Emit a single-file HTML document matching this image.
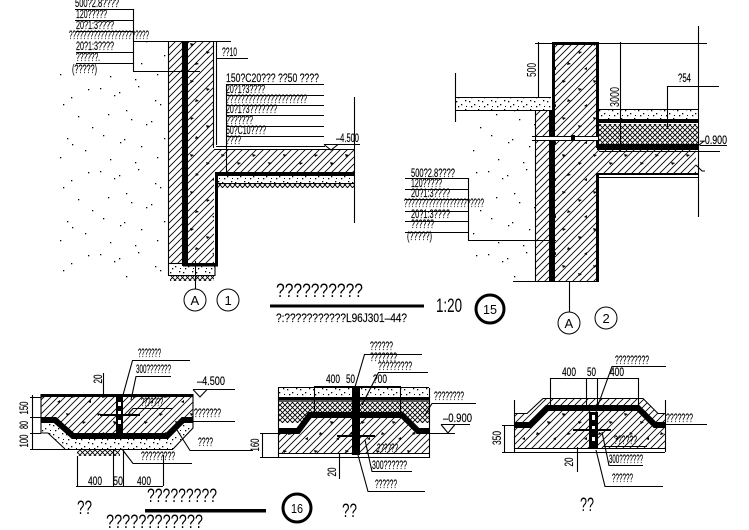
<!DOCTYPE html>
<html><head><meta charset="utf-8"><style>
html,body{margin:0;padding:0;background:#fff}
svg{display:block}
text{font-family:"Liberation Sans",sans-serif;font-size:11.5px;fill:#000;stroke:#000;stroke-width:.15}
.l{font-size:19px;stroke-width:0}
.m{font-size:13px;stroke-width:0}
line,polyline,path.s{stroke:#000;stroke-width:1.1;fill:none}
.b{fill:#000;stroke:none}
</style></head><body>
<svg width="749" height="530" viewBox="0 0 749 530" xmlns="http://www.w3.org/2000/svg">
<defs>
<pattern id="h" width="7" height="7" patternUnits="userSpaceOnUse"><path d="M-1 8L8 -1M-1 1L1 -1M6 8L8 6" stroke="#000" stroke-width=".85" fill="none"/></pattern>
<pattern id="x" width="5" height="5" patternUnits="userSpaceOnUse"><path d="M0 0L5 5M5 0L0 5" stroke="#000" stroke-width=".9" fill="none"/></pattern>
<pattern id="d" width="97" height="83" patternUnits="userSpaceOnUse"><g fill="#000"><rect x="3" y="5" width="1.300" height="1.300"/><rect x="17" y="12" width="1.300" height="1.300"/><rect x="22" y="9" width="1.300" height="1.300"/><rect x="41" y="3" width="1.300" height="1.300"/><rect x="58" y="17" width="1.300" height="1.300"/><rect x="63" y="21" width="1.300" height="1.300"/><rect x="71" y="14" width="1.300" height="1.300"/><rect x="88" y="6" width="1.300" height="1.300"/><rect x="11" y="31" width="1.300" height="1.300"/><rect x="29" y="27" width="1.300" height="1.300"/><rect x="34" y="36" width="1.300" height="1.300"/><rect x="49" y="41" width="1.300" height="1.300"/><rect x="54" y="38" width="1.300" height="1.300"/><rect x="78" y="33" width="1.300" height="1.300"/><rect x="92" y="44" width="1.300" height="1.300"/><rect x="6" y="52" width="1.300" height="1.300"/><rect x="23" y="59" width="1.300" height="1.300"/><rect x="27" y="56" width="1.300" height="1.300"/><rect x="44" y="63" width="1.300" height="1.300"/><rect x="67" y="55" width="1.300" height="1.300"/><rect x="72" y="61" width="1.300" height="1.300"/><rect x="85" y="67" width="1.300" height="1.300"/><rect x="13" y="76" width="1.300" height="1.300"/><rect x="38" y="79" width="1.300" height="1.300"/><rect x="60" y="74" width="1.300" height="1.300"/></g></pattern>
<pattern id="c" width="13" height="9" patternUnits="userSpaceOnUse"><g fill="#000"><rect x="1" y="2" width="1.300" height="1.300"/><rect x="6" y="5" width="1.300" height="1.300"/><rect x="10" y="1" width="1.300" height="1.300"/><rect x="3" y="7" width="1.300" height="1.300"/><rect x="11" y="7" width="1" height="1"/></g></pattern>
<pattern id="t" width="31" height="37" patternUnits="userSpaceOnUse"><g fill="#000"><path d="M4 6l4 1-3 2z"/><path d="M20 14l4 1-3 2z"/><path d="M10 25l3 2-4 1z"/><path d="M26 32l3-2v3z"/></g></pattern>
</defs>

<!-- soil -->
<rect x="60" y="70" width="108" height="210" fill="url(#d)"/>
<rect x="134" y="42" width="34" height="28" fill="url(#d)"/>
<rect x="468" y="110" width="68" height="170" fill="url(#d)"/>

<!-- DETAIL 1 -->
<rect x="169" y="41" width="13" height="222" fill="url(#h)"/>
<rect x="188" y="41" width="26" height="223" fill="url(#h)"/>
<rect x="188" y="41" width="26" height="223" fill="url(#t)"/>
<rect x="214" y="150" width="140" height="22" fill="url(#h)"/>
<rect x="214" y="150" width="140" height="22" fill="url(#t)"/>
<rect x="218" y="176" width="136" height="7" fill="url(#c)"/>
<rect x="218" y="183" width="136" height="5" fill="url(#x)"/>
<rect x="170" y="266" width="45" height="9" fill="url(#c)"/>
<rect x="170" y="275" width="44" height="6" fill="url(#x)"/>
<rect class="b" x="183" y="41" width="5" height="225"/>
<rect class="b" x="183" y="263" width="35" height="3.500"/>
<rect class="b" x="215" y="172" width="3" height="94"/>
<rect class="b" x="215" y="172" width="139" height="4"/>
<line x1="168.500" y1="41" x2="168.500" y2="275"/>
<line x1="182.500" y1="41" x2="182.500" y2="266"/>
<line x1="213.500" y1="41" x2="213.500" y2="148"/>
<line x1="216.500" y1="41" x2="216.500" y2="145"/>
<line x1="133" y1="41.500" x2="231" y2="41.500"/>
<line x1="216" y1="146.500" x2="325" y2="146.500"/>
<line x1="214" y1="149.500" x2="354" y2="149.500"/>
<line x1="354.500" y1="97" x2="354.500" y2="223"/>
<line x1="218" y1="183.500" x2="354" y2="183.500"/>
<line x1="168" y1="263.500" x2="183" y2="263.500"/>
<line x1="168" y1="275.500" x2="215" y2="275.500"/>
<line x1="215" y1="266" x2="215" y2="276"/>
<circle cx="195" cy="300" r="11" fill="none" stroke="#000"/>
<line x1="195.500" y1="261" x2="195.500" y2="289"/>
<circle cx="228" cy="300" r="11" fill="none" stroke="#000"/>
<text class="m" x="190.500" y="305">A</text>
<text class="m" x="224.500" y="305">1</text>
<!-- left labels 1 -->
<path class="s" d="M75 9.500H133.500V71.500H200M75 20.500H133M76 31.500H133M76 52.500H133M76 63.500H133"/>
<text x="75" y="7" textLength="44" lengthAdjust="spacingAndGlyphs">500?2.8????</text>
<text x="76" y="18" textLength="31" lengthAdjust="spacingAndGlyphs">120?????</text>
<text x="76" y="29" textLength="38" lengthAdjust="spacingAndGlyphs">20?1:3????</text>
<text x="69" y="39" textLength="80" lengthAdjust="spacingAndGlyphs">???????????????????????</text>
<text x="76" y="50" textLength="38" lengthAdjust="spacingAndGlyphs">20?1:3????</text>
<text x="76" y="61" textLength="24" lengthAdjust="spacingAndGlyphs">??????.</text>
<text x="72" y="73" textLength="25" lengthAdjust="spacingAndGlyphs">(?????)</text>
<!-- right labels 1 -->
<path class="s" d="M216 58.500H248M226 84.500H324M226 95.500H324M226 105.500H324M226 115.500H324M226 126.500H324M226 136.500H324M226.500 84V173"/>
<text x="222" y="56" textLength="15" lengthAdjust="spacingAndGlyphs">??10</text>
<text x="226" y="82" textLength="93" lengthAdjust="spacingAndGlyphs">150?C20???  ??50 ????</text>
<text x="226" y="93" textLength="39" lengthAdjust="spacingAndGlyphs">20?1?3????</text>
<text x="226" y="103" textLength="81" lengthAdjust="spacingAndGlyphs">??????????????????????</text>
<text x="226" y="113" textLength="51" lengthAdjust="spacingAndGlyphs">20?1?3???????</text>
<text x="226" y="124" textLength="27" lengthAdjust="spacingAndGlyphs">???????</text>
<text x="226" y="134" textLength="40" lengthAdjust="spacingAndGlyphs">50?C10????</text>
<text x="226" y="144" textLength="15" lengthAdjust="spacingAndGlyphs">????</text>
<text x="336" y="142" textLength="23" lengthAdjust="spacingAndGlyphs">–4.500</text>
<path class="s" d="M324 144.500H360M324 144.500L331 150L338 144.500"/>
<!-- title 15 -->
<text class="l" x="276" y="297" textLength="87" lengthAdjust="spacingAndGlyphs">??????????</text>
<rect class="b" x="270" y="304.500" width="154" height="3"/>
<text x="276" y="322" textLength="131" lengthAdjust="spacingAndGlyphs">?:???????????L96J301–44?</text>
<text class="l" x="436" y="312" textLength="26" lengthAdjust="spacingAndGlyphs">1:20</text>
<circle cx="490" cy="309" r="14" fill="none" stroke="#000" stroke-width="3"/>
<text class="m" x="483" y="314" textLength="14" lengthAdjust="spacingAndGlyphs">15</text>

<!-- DETAIL 2 -->
<rect x="555" y="45" width="41" height="236" fill="url(#h)"/>
<rect x="555" y="45" width="41" height="236" fill="url(#t)"/>
<rect x="536" y="110" width="13" height="171" fill="url(#h)"/>
<rect x="596" y="150" width="100" height="23" fill="url(#h)"/>
<rect x="596" y="150" width="100" height="23" fill="url(#t)"/>
<rect x="599" y="110" width="99" height="9" fill="url(#c)"/>
<rect x="599" y="124" width="99" height="20" fill="url(#x)"/>
<rect x="455" y="98" width="96" height="12" fill="url(#c)"/>
<rect class="b" x="549" y="110" width="6" height="171"/>
<rect class="b" x="552" y="42" width="3" height="69"/>
<rect class="b" x="552" y="42" width="47" height="3"/>
<rect class="b" x="596" y="42" width="3" height="106"/>
<rect class="b" x="596" y="173" width="3" height="108"/>
<rect class="b" x="599" y="119" width="99" height="4"/>
<rect class="b" x="597" y="144" width="101" height="6"/>
<rect class="b" x="596" y="173" width="102" height="2"/>
<rect x="532" y="137" width="66" height="3" fill="#fff"/>
<path class="s" d="M532 136.500H598M532 140.500H598"/>
<rect class="b" x="571" y="135" width="4" height="6"/>
<line x1="535" y1="43.500" x2="707" y2="43.500"/>
<line x1="535.500" y1="110" x2="535.500" y2="281"/>
<line x1="538.500" y1="42" x2="538.500" y2="97"/>
<line x1="620.500" y1="42" x2="620.500" y2="151"/>
<line x1="698.500" y1="26" x2="698.500" y2="217"/>
<line x1="455.500" y1="73" x2="455.500" y2="122"/>
<line x1="455" y1="97.500" x2="551" y2="97.500"/>
<line x1="455" y1="110.500" x2="551" y2="110.500"/>
<line x1="599" y1="109.500" x2="698" y2="109.500"/>
<line x1="599" y1="151.500" x2="720" y2="151.500"/>
<line x1="599" y1="177.500" x2="698" y2="177.500"/>
<line x1="513" y1="281.500" x2="599" y2="281.500"/>
<text transform="rotate(-90 536 70)" class="m" x="536" y="70" text-anchor="middle" textLength="14" lengthAdjust="spacingAndGlyphs">500</text>
<text transform="rotate(-90 619 97)" class="m" x="619" y="97" text-anchor="middle" textLength="20" lengthAdjust="spacingAndGlyphs">3000</text>
<path class="s" d="M667.500 129V86.500H719"/>
<text x="678" y="82" textLength="13" lengthAdjust="spacingAndGlyphs">?54</text>
<path class="s" d="M700 145.500H727M698 146L704 141"/>
<text x="700" y="144" textLength="27" lengthAdjust="spacingAndGlyphs">–0.900</text>
<path class="s" d="M696 165L702 171H705"/>
<path class="s" d="M405 178.500H468.500V240.500H556M405 189.500H468M405 199.500H468M405 211.500H468M405 221.500H468M405 232.500H468"/>
<text x="411" y="177" textLength="44" lengthAdjust="spacingAndGlyphs">500?2.8????</text>
<text x="411" y="187" textLength="31" lengthAdjust="spacingAndGlyphs">120?????</text>
<text x="411" y="197" textLength="39" lengthAdjust="spacingAndGlyphs">20?1:3????</text>
<text x="404" y="207" textLength="80" lengthAdjust="spacingAndGlyphs">???????????????????????</text>
<text x="411" y="218" textLength="39" lengthAdjust="spacingAndGlyphs">20?1:3????</text>
<text x="411" y="228" textLength="23" lengthAdjust="spacingAndGlyphs">??????</text>
<text x="407" y="240" textLength="25" lengthAdjust="spacingAndGlyphs">(?????)</text>
<line x1="569.500" y1="281" x2="569.500" y2="312"/>
<circle cx="569" cy="323" r="11" fill="none" stroke="#000"/>
<circle cx="606" cy="318" r="11" fill="none" stroke="#000"/>
<text class="m" x="564.500" y="328">A</text>
<text class="m" x="602.500" y="323">2</text>

<!-- DETAIL 3: bottom-left -->
<polygon points="41,397 193,397 193,420 183,420 167,436 73,436 55,420 41,420" fill="url(#h)"/>
<polygon points="41,397 193,397 193,420 183,420 167,436 73,436 55,420 41,420" fill="url(#t)"/>
<polygon points="48,433 65,449 173,449 193,428 183,423 167,439 73,439 55,423 41,423 41,433" fill="url(#c)"/>
<rect x="77" y="450" width="43" height="6" fill="url(#x)"/>
<rect class="b" x="41" y="394" width="152" height="3"/>
<polyline points="41,420 55,420 73,436 167,436 183,420 193,420" style="stroke-width:6"/>
<path class="s" d="M41 394V433H48L65 449M193 394V428L173 449M30 449.500H173"/>
<rect class="b" x="116" y="397" width="7" height="37"/>
<g fill="#fff"><rect x="118" y="402" width="3" height="4"/><rect x="118" y="411" width="3" height="4"/><rect x="118" y="420" width="3" height="4"/></g>
<rect class="b" x="100" y="414" width="40" height="2"/>
<text x="138" y="357" textLength="23" lengthAdjust="spacingAndGlyphs">???????</text>
<path class="s" d="M190 360.500H132.500L123 395"/>
<text x="136" y="373" textLength="35" lengthAdjust="spacingAndGlyphs">300???????</text>
<path class="s" d="M171 376.500H136L131 400"/>
<text x="141" y="406" textLength="22" lengthAdjust="spacingAndGlyphs">???????</text>
<path class="s" d="M173 408.500H133L129 413"/>
<text x="197" y="385" textLength="28" lengthAdjust="spacingAndGlyphs">–4.500</text>
<path class="s" d="M193 389.500H235M193 389.500L200 397L207 389.500"/>
<text x="194" y="417" textLength="27" lengthAdjust="spacingAndGlyphs">???????</text>
<line x1="193" y1="421.500" x2="235" y2="421.500"/>
<text x="198" y="446" textLength="15" lengthAdjust="spacingAndGlyphs">????</text>
<path class="s" d="M253 450.500H190L177 430"/>
<text x="141" y="460" textLength="34" lengthAdjust="spacingAndGlyphs">?????????</text>
<path class="s" d="M192 463.500H133L122 449"/>
<path class="s" d="M32.500 395V449M30 397.500H41M30 417.500H41M30 433.500H41"/>
<text transform="rotate(-90 28 408)" x="28" y="408" text-anchor="middle" textLength="13" lengthAdjust="spacingAndGlyphs">150</text>
<text transform="rotate(-90 28 425)" x="28" y="425" text-anchor="middle" textLength="8" lengthAdjust="spacingAndGlyphs">80</text>
<text transform="rotate(-90 28 441)" x="28" y="441" text-anchor="middle" textLength="13" lengthAdjust="spacingAndGlyphs">100</text>
<text transform="rotate(-90 102 379)" x="102" y="379" text-anchor="middle" textLength="9" lengthAdjust="spacingAndGlyphs">20</text>
<line x1="103.500" y1="373" x2="103.500" y2="397"/>
<path class="s" d="M76 486.500H163M77.500 456V486M113.500 449V486M123.500 449V486M163.500 455V486"/>
<text x="88" y="485" textLength="14" lengthAdjust="spacingAndGlyphs">400</text>
<text x="113" y="485" textLength="10" lengthAdjust="spacingAndGlyphs">50</text>
<text x="137" y="485" textLength="14" lengthAdjust="spacingAndGlyphs">400</text>
<text class="l" x="147" y="502" textLength="70" lengthAdjust="spacingAndGlyphs">?????????</text>
<text class="l" x="77" y="514" textLength="15" lengthAdjust="spacingAndGlyphs">??</text>
<rect class="b" x="145" y="509" width="121" height="3.500"/>
<text class="l" x="106" y="528" textLength="97" lengthAdjust="spacingAndGlyphs">????????????</text>
<circle cx="297" cy="508" r="14" fill="none" stroke="#000" stroke-width="3"/>
<text class="m" x="291" y="513" textLength="12" lengthAdjust="spacingAndGlyphs">16</text>
<text class="l" x="342" y="517" textLength="15" lengthAdjust="spacingAndGlyphs">??</text>

<!-- DETAIL 4: bottom-middle -->
<rect x="278" y="388" width="151" height="9" fill="url(#c)"/>
<rect x="278" y="402" width="151" height="21" fill="url(#x)"/>
<polygon points="278,431 298,431 310,415 402,415 418,431 429,431 429,453 278,453" fill="#fff"/>
<polygon points="278,431 298,431 310,415 402,415 418,431 429,431 429,453 278,453" fill="url(#h)"/>
<polygon points="278,431 298,431 310,415 402,415 418,431 429,431 429,453 278,453" fill="url(#t)"/>
<rect class="b" x="278" y="397" width="151" height="3"/>
<rect x="278" y="400" width="151" height="2" fill="#555"/>
<polyline points="278,431 298,431 310,415 402,415 418,431 429,431" style="stroke-width:6"/>
<rect class="b" x="352" y="387" width="8" height="68"/>
<rect class="b" x="337" y="435" width="38" height="2"/>
<path class="s" d="M278.500 388V458M429.500 388V458M278 387.500H429M278 453.500H429M278 457.500H429"/>
<path class="s" d="M314 386.500H400M314.500 386V413M400.500 386V413"/>
<text x="326" y="383" textLength="14" lengthAdjust="spacingAndGlyphs">400</text>
<text x="346" y="383" textLength="9" lengthAdjust="spacingAndGlyphs">50</text>
<text x="373" y="383" textLength="14" lengthAdjust="spacingAndGlyphs">?00</text>
<text x="370" y="350" textLength="23" lengthAdjust="spacingAndGlyphs">??????</text>
<text x="370" y="361" textLength="27" lengthAdjust="spacingAndGlyphs">???????</text>
<path class="s" d="M422 354.500H364.500L355 387"/>
<text x="378" y="370" textLength="34" lengthAdjust="spacingAndGlyphs">?????????</text>
<path class="s" d="M428 372.500H378.500L362 405"/>
<text x="434" y="400" textLength="30" lengthAdjust="spacingAndGlyphs">????????</text>
<path class="s" d="M476 403.500H432L425 415"/>
<text x="443" y="422" textLength="29" lengthAdjust="spacingAndGlyphs">–0.900</text>
<path class="s" d="M429 433.500H455M441 424.500H470M441 424.500L448 433L455 424.500"/>
<text x="377" y="452" textLength="21" lengthAdjust="spacingAndGlyphs">??????</text>
<line x1="365" y1="453.500" x2="412" y2="453.500"/>
<text x="372" y="469" textLength="35" lengthAdjust="spacingAndGlyphs">300??????</text>
<path class="s" d="M412 471.500H372L365 440"/>
<text x="375" y="488" textLength="22" lengthAdjust="spacingAndGlyphs">??????</text>
<path class="s" d="M425 491.500H368L358 455"/>
<path class="s" d="M262.500 433V457M260 433.500H278M260 457.500H278"/>
<text transform="rotate(-90 259 445)" x="259" y="445" text-anchor="middle" textLength="13" lengthAdjust="spacingAndGlyphs">160</text>
<text transform="rotate(-90 336 472)" x="336" y="472" text-anchor="middle" textLength="9" lengthAdjust="spacingAndGlyphs">20</text>
<line x1="339.500" y1="454" x2="339.500" y2="479"/>

<!-- DETAIL 5: bottom-right -->
<polygon points="514,413 527,413 543,398 643,398 658,413 665,413 665,425 655,425 638,408 547,408 530,425 514,425" fill="url(#h)"/>
<polygon points="514,425 530,425 547,408 638,408 655,425 665,425 665,448 514,448" fill="url(#h)"/>
<polygon points="514,425 530,425 547,408 638,408 655,425 665,425 665,448 514,448" fill="url(#t)"/>
<polyline points="514,425 530,425 547,408 638,408 655,425 665,425" style="stroke-width:6"/>
<rect class="b" x="589" y="412" width="9" height="36"/>
<g fill="#fff"><rect x="592" y="415" width="3" height="5"/><rect x="592" y="426" width="3" height="5"/><rect x="592" y="437" width="3" height="4"/></g>
<rect class="b" x="573" y="429" width="38" height="2"/>
<path class="s" d="M514.500 400V452M665.500 400V452M514 448.500H665M514 452.500H665M514 413.500H527L543 398.500H643L658 413.500H665"/>
<path class="s" d="M550 378.500H638M550.500 378V408M586.500 378V408M597.500 378V408M638.500 378V408"/>
<text x="562" y="376" textLength="14" lengthAdjust="spacingAndGlyphs">400</text>
<text x="587" y="376" textLength="9" lengthAdjust="spacingAndGlyphs">50</text>
<text x="610" y="376" textLength="14" lengthAdjust="spacingAndGlyphs">400</text>
<text x="615" y="364" textLength="34" lengthAdjust="spacingAndGlyphs">?????????</text>
<path class="s" d="M666 366.500H612L597 408"/>
<text x="666" y="422" textLength="27" lengthAdjust="spacingAndGlyphs">???????</text>
<line x1="665" y1="424.500" x2="707" y2="424.500"/>
<text x="614" y="444" textLength="23" lengthAdjust="spacingAndGlyphs">??????</text>
<line x1="603" y1="446.500" x2="647" y2="446.500"/>
<text x="609" y="463" textLength="34" lengthAdjust="spacingAndGlyphs">300???????</text>
<path class="s" d="M643 465.500H609L602 432"/>
<text x="612" y="482" textLength="21" lengthAdjust="spacingAndGlyphs">??????</text>
<path class="s" d="M663 486.500H605L596 450"/>
<path class="s" d="M504.500 425V452M502 425.500H514M502 452.500H514"/>
<text transform="rotate(-90 501 438)" x="501" y="438" text-anchor="middle" textLength="14" lengthAdjust="spacingAndGlyphs">350</text>
<text transform="rotate(-90 573 462)" x="573" y="462" text-anchor="middle" textLength="9" lengthAdjust="spacingAndGlyphs">20</text>
<line x1="577.500" y1="447" x2="577.500" y2="472"/>
<text class="l" x="580" y="511" textLength="14" lengthAdjust="spacingAndGlyphs">??</text>
</svg>
</body></html>
